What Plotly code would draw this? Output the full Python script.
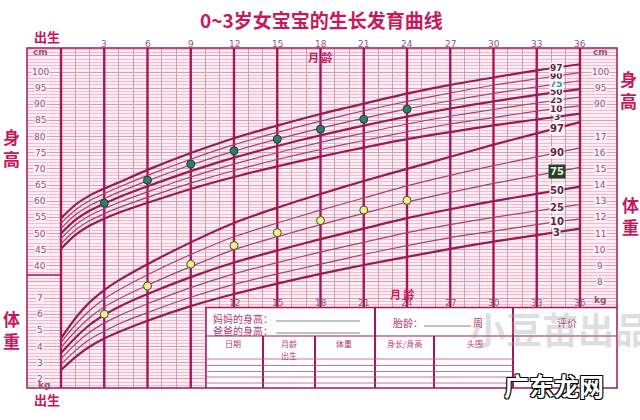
import numpy as np
import plotly.graph_objects as go

# ---------------- data ----------------
months = [0, 1, 2, 3, 4, 6, 9, 12, 15, 18, 21, 24, 27, 30, 33, 36]
percentile_names = ["3", "10", "25", "50", "75", "90", "97"]

height_p3 = [45.3, 49.6, 52.5, 54.6, 56.4, 59.5, 63.8, 67.5, 70.8, 73.8, 76.6, 79.2, 81.4, 83.5, 85.3, 87.1]
height_p10 = [46.8, 51.1, 54.0, 56.1, 58.0, 61.2, 65.6, 69.5, 72.9, 76.0, 78.8, 81.5, 83.9, 85.9, 87.9, 89.6]
height_p25 = [48.4, 52.7, 55.6, 57.7, 59.6, 62.9, 67.5, 71.5, 75.0, 78.2, 81.1, 83.9, 86.3, 88.4, 90.4, 92.2]
height_p50 = [50.0, 54.2, 57.1, 59.2, 61.2, 64.6, 69.3, 73.5, 77.1, 80.4, 83.4, 86.2, 88.7, 90.9, 92.9, 94.7]
height_p75 = [51.6, 55.8, 58.7, 60.8, 62.8, 66.3, 71.2, 75.5, 79.2, 82.6, 85.7, 88.6, 91.1, 93.4, 95.4, 97.3]
height_p90 = [53.2, 57.3, 60.2, 62.3, 64.3, 68.0, 73.0, 77.5, 81.3, 84.8, 88.0, 90.9, 93.5, 95.9, 97.9, 99.8]
height_p97 = [54.7, 58.9, 61.8, 63.9, 65.8, 69.7, 74.9, 79.5, 83.4, 87.0, 90.2, 93.3, 96.0, 98.3, 100.5, 102.4]

weight_p3 = [2.55, 3.35, 4.0, 4.5, 4.9, 5.6, 6.5, 7.25, 7.9, 8.5, 9.05, 9.55, 10.05, 10.5, 10.9, 11.3]
weight_p10 = [2.9, 3.75, 4.45, 4.95, 5.4, 6.1, 7.05, 7.85, 8.5, 9.1, 9.7, 10.25, 10.75, 11.15, 11.55, 11.9]
weight_p25 = [3.25, 4.15, 4.9, 5.45, 5.9, 6.65, 7.65, 8.5, 9.2, 9.85, 10.45, 11.05, 11.55, 12.0, 12.4, 12.8]
weight_p50 = [3.6, 4.55, 5.35, 5.95, 6.45, 7.25, 8.3, 9.2, 9.95, 10.65, 11.3, 11.95, 12.5, 13.0, 13.45, 13.9]
weight_p75 = [3.95, 4.95, 5.8, 6.45, 6.95, 7.8, 8.95, 10.0, 10.8, 11.55, 12.25, 12.95, 13.55, 14.1, 14.6, 15.1]
weight_p90 = [4.25, 5.35, 6.25, 6.95, 7.5, 8.45, 9.7, 10.8, 11.65, 12.45, 13.2, 13.95, 14.6, 15.2, 15.75, 16.3]
weight_p97 = [4.5, 5.75, 6.75, 7.5, 8.1, 9.1, 10.45, 11.65, 12.6, 13.45, 14.25, 15.0, 15.75, 16.5, 17.2, 17.9]

child_months = [3, 6, 9, 12, 15, 18, 21, 24]
child_height = [59.4, 66.5, 71.5, 75.6, 79.2, 82.3, 85.4, 88.5]
child_weight = [6.0, 7.75, 9.1, 10.25, 11.05, 11.8, 12.45, 13.05]

month_major = [0, 3, 6, 9, 12, 15, 18, 21, 24, 27, 30, 33, 36]
month_minor = [m for m in range(0, 37) if m % 3 != 0]
top_month_labels = [3, 6, 9, 12, 15, 18, 21, 24, 27, 30, 33, 36]
bottom_month_labels = [12, 15, 18, 21, 24, 27, 30, 33, 36]
left_height_ticks = [100, 95, 90, 85, 80, 75, 70, 65, 60, 55, 50, 45, 40]
left_weight_ticks = [7, 6, 5, 4, 3, 2]
right_height_ticks = [100, 95, 90]
right_weight_ticks = [17, 16, 15, 14, 13, 12, 11, 10, 9, 8]

heights = [height_p3, height_p10, height_p25, height_p50, height_p75, height_p90, height_p97]
weights = [weight_p3, weight_p10, weight_p25, weight_p50, weight_p75, weight_p90, weight_p97]

# ---------------- style ----------------
MAG = "#a3185a"
CURVE = "#9a1a52"
CURVE_THIN = "#a8406c"
LABEL = "#93557a"
TITLE = "#c8175d"
CJK = "Noto Sans CJK SC"
PLOT_BG = "#fdeef4"

W, H = 640, 420
L, R, T, B = 27, 23, 48, 32
PW, PH = W - L - R, H - T - B


def px(x):
    return (x - L) / PW


def py(y):
    return (H - B - y) / PH


# ranges: pixel geometry of the reference (month 0 at x=61, 36 at x=580; 100cm at y=72)
x_per_month = (580 - 61) / 36.0
x0 = (L - 61) / x_per_month
x1 = (W - R - 61) / x_per_month
cm_px = 3.23
h_top = 100 + (72 - T) / cm_px
h_bot = 100 - (H - B - 72) / cm_px
w_top = (h_top + 5) / 5
w_bot = (h_bot + 5) / 5

fig = go.Figure()

# thick 3-month lines (drawn as a trace so they sit above the fine grid)
vx, vy = [], []
for m in month_major:
    vx += [m, m, None]
    vy += [h_bot, h_top, None]
fig.add_trace(go.Scatter(x=vx, y=vy, mode="lines", yaxis="y",
                         line=dict(color=MAG, width=2.4), hoverinfo="skip", showlegend=False))

thick = {"3", "50", "97"}
for name, vals in zip(percentile_names, heights):
    fig.add_trace(go.Scatter(
        x=months, y=vals, mode="lines", yaxis="y",
        line=dict(color=CURVE if name in thick else CURVE_THIN,
                  width=2.2 if name in thick else 1.2, shape="spline", smoothing=0.8),
        hoverinfo="skip", showlegend=False))
for name, vals in zip(percentile_names, weights):
    fig.add_trace(go.Scatter(
        x=months, y=vals, mode="lines", yaxis="y2",
        line=dict(color=CURVE if name in thick else CURVE_THIN,
                  width=2.2 if name in thick else 1.2, shape="spline", smoothing=0.8),
        hoverinfo="skip", showlegend=False))

fig.add_trace(go.Scatter(
    x=child_months, y=child_height, mode="markers", yaxis="y",
    marker=dict(size=8, color="#2f7d6d", line=dict(color="#1c3d36", width=1)),
    showlegend=False))
fig.add_trace(go.Scatter(
    x=child_months, y=child_weight, mode="markers", yaxis="y2",
    marker=dict(size=8, color="#f1ef8c", line=dict(color="#4d4a2a", width=1)),
    showlegend=False))

annotations = []


def ann(text, x, y, xref="paper", yref="paper", size=9, color=LABEL, bold=False,
        family=CJK, **kw):
    d = dict(text=("<b>%s</b>" % text) if bold else text, x=x, y=y, xref=xref, yref=yref,
             showarrow=False, xanchor="center", yanchor="middle",
             font=dict(size=size, color=color, family=family))
    d.update(kw)
    annotations.append(d)
    return d


# title and side labels
ann("0~3岁女宝宝的生长发育曲线", px(321), py(19), size=19, color=TITLE, bold=True)
ann("出生", px(47), py(37), size=13, color=TITLE, bold=True)
ann("出生", px(47), py(399), size=13, color=TITLE, bold=True)
ann("身<br>高", px(12), py(147), size=17, color=TITLE, bold=True)
ann("身<br>高", px(629), py(89), size=17, color=TITLE, bold=True)
ann("体<br>重", px(630), py(215), size=17, color=TITLE, bold=True)
ann("体<br>重", px(12), py(329), size=17, color=TITLE, bold=True)
ann("月 龄", 18, py(57), xref="x", size=11, color=TITLE, bold=True)
ann("月 龄", 23.7, py(294), xref="x", size=11, color=TITLE, bold=True)

# month labels
for m in top_month_labels:
    ann(str(m), m, py(44), xref="x", size=9, color=LABEL, family="DejaVu Sans")
for m in bottom_month_labels:
    ann(str(m), m, py(303), xref="x", size=9, color=LABEL, family="DejaVu Sans")

# axis value labels inside the frame
for v in left_height_ticks:
    ann(str(v), -1.45, v, xref="x", yref="y", size=9, color=LABEL, family="DejaVu Sans",
        bgcolor=PLOT_BG, borderpad=0)
for v in left_weight_ticks:
    ann(str(v), -1.45, v, xref="x", yref="y2", size=9, color=LABEL, family="DejaVu Sans",
        bgcolor=PLOT_BG, borderpad=0)
for v in right_height_ticks:
    ann(str(v), 37.4, v, xref="x", yref="y", size=9, color=LABEL, family="DejaVu Sans",
        bgcolor=PLOT_BG, borderpad=0)
for v in right_weight_ticks:
    ann(str(v), 37.4, v, xref="x", yref="y2", size=9, color=LABEL, family="DejaVu Sans",
        bgcolor=PLOT_BG, borderpad=0)
ann("cm", -1.45, py(52), xref="x", size=9, color=LABEL, family="DejaVu Sans", bold=True)
ann("cm", 37.4, py(52), xref="x", size=9, color=LABEL, family="DejaVu Sans", bold=True)
ann("kg", -1.2, py(385), xref="x", size=9, color=LABEL, family="DejaVu Sans", bold=True)
ann("kg", 37.4, py(300), xref="x", size=9, color=LABEL, family="DejaVu Sans", bold=True)

# percentile labels at the right end of curves
lab_x = 34.4
for name, vals in zip(percentile_names, heights):
    yv = float(np.interp(lab_x, months, vals))
    col = "#2a9d8f" if name == "75" else "#5e2742"
    ann(name, lab_x, yv, xref="x", yref="y", size=9, color=col, bold=True,
        family="DejaVu Sans", bgcolor="#fbf6f8", borderpad=0)
for name, vals in zip(percentile_names, weights):
    yv = float(np.interp(lab_x, months, vals))
    if name == "75":
        ann("75", lab_x, yv, xref="x", yref="y2", size=10, color="#e9f3c8", bold=True,
            family="DejaVu Sans", bgcolor="#23402f", borderpad=1)
    else:
        ann(name, lab_x, yv, xref="x", yref="y2", size=10, color="#5e2742", bold=True,
            family="DejaVu Sans", bgcolor="#fbf6f8", borderpad=0)

# ---------------- form table and frame ----------------
shapes = []


def line(xa, ya, xb, yb, color=MAG, width=1.5):
    shapes.append(dict(type="line", xref="paper", yref="paper", x0=px(xa), y0=py(ya),
                       x1=px(xb), y1=py(yb), line=dict(color=color, width=width), layer="above"))


shapes.append(dict(type="rect", xref="paper", yref="paper", x0=px(206), y0=py(388),
                   x1=px(617), y1=py(307), fillcolor="white", line=dict(width=0), layer="above"))
line(206, 307.5, 617, 307.5, width=1.5)
line(206, 307, 206, 388, width=1.5)
line(375, 307, 375, 388, width=2)
line(513, 307, 513, 388, width=2)
line(206, 336, 617, 336, width=1.2)
for xv in [263, 315, 434]:
    line(xv, 336, xv, 388, width=2)
for yv in [359, 365.5, 371.5, 377, 383]:
    line(206, yv, 513, yv, color="#c25486", width=0.8)
line(276, 321, 360, 321, color="#666666", width=0.8)
line(276, 333, 360, 333, color="#666666", width=0.8)
line(424, 326, 471, 326, color="#666666", width=0.8)
line(27, 275, 61, 275, width=1.5)
shapes.append(dict(type="rect", xref="paper", yref="paper", x0=0, y0=0, x1=1, y1=1,
                   line=dict(color=MAG, width=1.5), layer="above"))

TBL = "#b23a72"
ann("妈妈的身高：", px(243), py(318), size=10, color=TBL)
ann("爸爸的身高：", px(243), py(330), size=10, color=TBL)
ann("胎龄：", px(408), py(322), size=10, color=TBL)
ann("周", px(478), py(322), size=10, color=TBL)
ann("评价", px(567), py(322), size=10, color=TBL)
ann("日期", px(233), py(343), size=8, color=TBL)
ann("月龄", px(289), py(343), size=8, color=TBL)
ann("出生", px(289), py(355), size=8, color=TBL)
ann("体重", px(344), py(343), size=8, color=TBL)
ann("身长/身高", px(404), py(343), size=8, color=TBL)
ann("头围", px(475), py(343), size=8, color=TBL)

# watermarks
ann("小豆苗出品", px(468), py(328), size=36, color="rgba(160,160,160,0.35)", bold=True,
    xanchor="left")
wm = ann("广东龙网", px(554), py(385), size=25, color="white", bold=True)
wm["font"]["shadow"] = "1px 1px 0 #000, -1px -1px 0 #000, 1px -1px 0 #000, -1px 1px 0 #000"

fig.update_layout(
    width=W, height=H, autosize=False,
    margin=dict(l=L, r=R, t=T, b=B),
    paper_bgcolor="white", plot_bgcolor=PLOT_BG,
    showlegend=False,
    xaxis=dict(range=[x0, x1], showticklabels=False, zeroline=False, ticks="",
               tickmode="array", tickvals=month_minor, showgrid=True,
               gridcolor="#c7a0b5", gridwidth=1),
    yaxis=dict(range=[h_bot, h_top], showticklabels=False, zeroline=False, ticks="",
               tick0=0, dtick=5, showgrid=True, gridcolor="#d3a0b8", gridwidth=1,
               minor=dict(dtick=1, showgrid=True, gridcolor="#f1bcd0", gridwidth=1)),
    yaxis2=dict(range=[w_bot, w_top], overlaying="y", showticklabels=False, showgrid=False,
                zeroline=False, ticks=""),
    annotations=annotations,
    shapes=shapes,
)

fig.write_html("out.html", config={"displayModeBar": False},
               post_script="document.body.style.margin='0';document.body.style.overflow='hidden';")
